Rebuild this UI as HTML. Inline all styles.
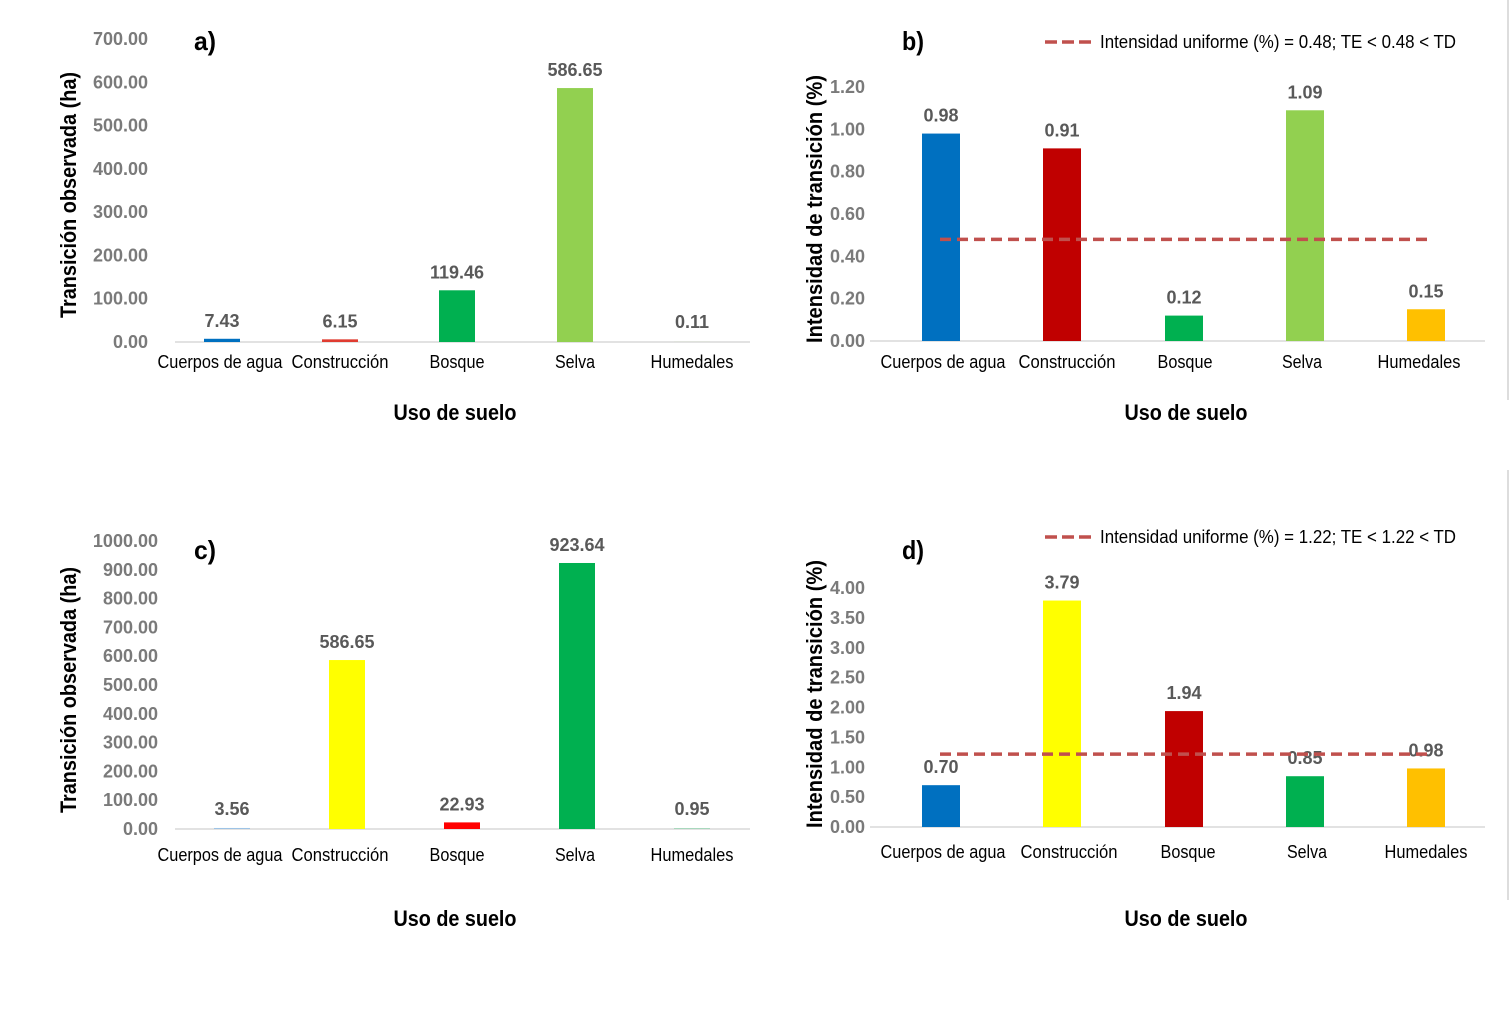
<!DOCTYPE html>
<html><head><meta charset="utf-8"><style>
html,body{margin:0;padding:0;background:#fff;}
svg{display:block;font-family:"Liberation Sans",sans-serif;}
</style></head><body>
<svg id="chart" width="1510" height="1030" viewBox="0 0 1510 1030" xmlns="http://www.w3.org/2000/svg">
<line x1="1508" y1="0" x2="1508" y2="400" stroke="#ddd" stroke-width="2"/>
<line x1="1508" y1="470" x2="1508" y2="900" stroke="#ddd" stroke-width="2"/>
</svg>
<script>
const categories = ["Cuerpos de agua","Construcción","Bosque","Selva","Humedales"];
const valuesA = [7.43, 6.15, 119.46, 586.65, 0.11];
const valuesB = [0.98, 0.91, 0.12, 1.09, 0.15];
const valuesC = [3.56, 586.65, 22.93, 923.64, 0.95];
const valuesD = [0.70, 3.79, 1.94, 0.85, 0.98];
const uniformB = 0.48;
const uniformD = 1.22;
const ticksA = [0,100,200,300,400,500,600,700];
const ticksB = [0,0.2,0.4,0.6,0.8,1.0,1.2];
const ticksC = [0,100,200,300,400,500,600,700,800,900,1000];
const ticksD = [0,0.5,1,1.5,2,2.5,3,3.5,4];

const NS = "http://www.w3.org/2000/svg";
const svg = document.getElementById('chart');
function el(tag, attrs, parent, text){
  const e = document.createElementNS(NS, tag);
  for (const k in attrs) e.setAttribute(k, attrs[k]);
  if (text !== undefined) e.textContent = text;
  (parent||svg).appendChild(e);
  return e;
}
const catWidths = [125, 97, 55, 40, 83];

function panel(p){
  const g = el('g', {});
  
  
  const y = v => p.y0 - (v - p.min) / (p.max - p.min) * (p.y0 - p.yTop);
  p.ticks.forEach(t => {
    const tx = el('text', {x: p.tickX, y: y(t) + 6, 'text-anchor': 'end', 'font-size': 18, 'font-weight': 'bold', fill: '#7a7a7a'}, g, t.toFixed(2));
    
    
  });
  const bl = el('line', {x1: p.axX0, x2: p.axX1, y1: p.y0, y2: p.y0, stroke: '#d9d9d9', 'stroke-width': 1.5}, g);
  
  
  p.values.forEach((v, i) => {
    const cx = p.cx[i];
    const top = y(v);
    const r = el('rect', {x: cx - p.bw/2, y: top, width: p.bw, height: Math.max(p.y0 - top, 0), fill: p.colors[i]}, g);
    
    
    const lbl = el('text', {x: cx, y: Math.min(top, p.y0 - 2) - 12, 'text-anchor': 'middle', 'font-size': 18, 'font-weight': 'bold', fill: '#595959'}, g, v.toFixed(2));
    
    
    const cl = el('text', {x: p.catX[i], y: p.catY, 'text-anchor': 'middle', 'font-size': 18, fill: '#000', textLength: catWidths[i], lengthAdjust: 'spacingAndGlyphs'}, g, categories[i]);
    
    
  });
  if (p.uniform !== undefined) {
    const ul = el('line', {x1: p.ux0, x2: p.ux1, y1: y(p.uniform), y2: y(p.uniform), stroke: '#c0504d', 'stroke-width': 3.5, 'stroke-dasharray': '11 6'}, g);
    
    
    const ll = el('line', {x1: 1045, x2: 1092, y1: p.legY - 6, y2: p.legY - 6, stroke: '#c0504d', 'stroke-width': 3.5, 'stroke-dasharray': '12 5'}, g);
    
    
    const lt = el('text', {x: 1100, y: p.legY, 'font-size': 18, fill: '#000', textLength: 356, lengthAdjust: 'spacingAndGlyphs'}, g, 'Intensidad uniforme (%) = ' + p.uniform.toFixed(2) + '; TE < ' + p.uniform.toFixed(2) + ' < TD');
    
    
  }
  const pl = el('text', {x: p.letX, y: p.letY, 'font-size': 26, 'font-weight': 'bold', fill: '#000', textLength: 22, lengthAdjust: 'spacingAndGlyphs'}, g, p.letter);
  
  
  const xt = el('text', {x: p.xtX, y: p.xtY, 'text-anchor': 'middle', 'font-size': 22, 'font-weight': 'bold', fill: '#000', textLength: 123, lengthAdjust: 'spacingAndGlyphs'}, g, 'Uso de suelo');
  
  
  const yt = el('text', {x: 0, y: 0, 'text-anchor': 'middle', 'font-size': 22, 'font-weight': 'bold', fill: '#000', textLength: p.ytLen, lengthAdjust: 'spacingAndGlyphs', transform: 'translate(' + p.ytX + ',' + p.ytY + ') rotate(-90)'}, g, p.ytText);
  
  
}

const leftCats = [220, 340, 457, 575, 692];
const rightCats = [943, 1067, 1185, 1302, 1419];

panel({name:'panel-a', letter:'a)', values: valuesA, ticks: ticksA, min:0, max:700, y0:342, yTop:39, tickX:148,
  axX0:175, axX1:750, cx:[222,340,457,575,692], bw:36, catX:leftCats, catY:368,
  colors:['#0070C0','#E03C31','#00B050','#92D050','#92D050'],
  letX:194, letY:50, xtX:455, xtY:420, ytX:76, ytY:195, ytLen:246, ytText:'Transición observada (ha)'});
panel({name:'panel-b', letter:'b)', values: valuesB, ticks: ticksB, min:0, max:1.2, y0:341, yTop:87, tickX:865,
  axX0:870, axX1:1485, cx:[941,1062,1184,1305,1426], bw:38, catX:rightCats, catY:368,
  colors:['#0070C0','#C00000','#00B050','#92D050','#FFC000'],
  uniform: uniformB, ux0:940, ux1:1428, legY:48,
  letX:902, letY:50, xtX:1186, xtY:420, ytX:822, ytY:209, ytLen:268, ytText:'Intensidad de transición (%)'});
panel({name:'panel-c', letter:'c)', values: valuesC, ticks: ticksC, min:0, max:1000, y0:829, yTop:541, tickX:158,
  axX0:175, axX1:750, cx:[232,347,462,577,692], bw:36, catX:leftCats, catY:861,
  colors:['#9DC3E6','#FFFF00','#FF0000','#00B050','#00B050'],
  letX:194, letY:559, xtX:455, xtY:926, ytX:76, ytY:690, ytLen:246, ytText:'Transición observada (ha)'});
panel({name:'panel-d', letter:'d)', values: valuesD, ticks: ticksD, min:0, max:4, y0:827, yTop:588, tickX:865,
  axX0:870, axX1:1485, cx:[941,1062,1184,1305,1426], bw:38, catX:[943,1069,1188,1307,1426], catY:858,
  colors:['#0070C0','#FFFF00','#C00000','#00B050','#FFC000'],
  uniform: uniformD, ux0:940, ux1:1428, legY:543,
  letX:902, letY:559, xtX:1186, xtY:926, ytX:822, ytY:694, ytLen:268, ytText:'Intensidad de transición (%)'});
</script>
</body></html>
